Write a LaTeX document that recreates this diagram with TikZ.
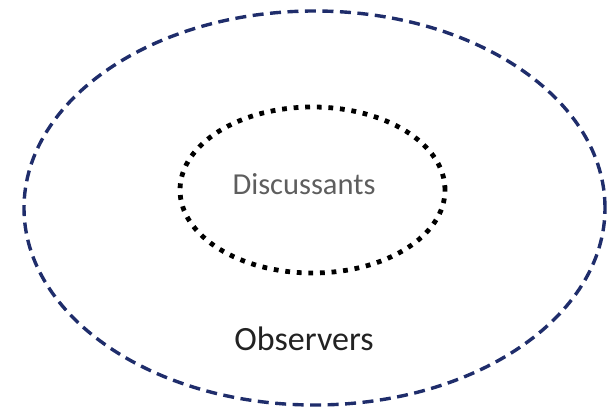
\documentclass[tikz,border=0pt]{standalone}
\usepackage{fontspec}
\setmainfont{Carlito}
\usetikzlibrary{shapes.geometric}
\definecolor{navy}{HTML}{1F2D6B}
\definecolor{txtgray}{HTML}{5E5E5E}
\definecolor{txtdark}{HTML}{222222}
\tikzset{
  outerring/.style={ellipse, draw=navy, line width=3.4pt, dash pattern=on 11pt off 6.5pt, inner sep=0pt, minimum width=581pt, minimum height=394pt},
  innerring/.style={ellipse, draw=black, line width=4.8pt, dash pattern=on 4.8pt off 6.8pt, inner sep=0pt, minimum width=265pt, minimum height=166pt},
  lbl/.style={inner sep=0pt, anchor=center}
}
\begin{document}
\begin{tikzpicture}[x=1pt,y=1pt]
\useasboundingbox (0,0) rectangle (607,410);
\node[outerring] (outer) at (314.5,202) {};
\node[innerring] (inner) at (312.5,220) {};
\node[lbl, text=txtgray, font=\fontsize{30.5}{36}\selectfont] (disc) at (304,226) {Discussants};
\node[lbl, text=txtdark, font=\fontsize{34}{40}\selectfont] (obs) at (304,71) {Observers};
\end{tikzpicture}
\end{document}
